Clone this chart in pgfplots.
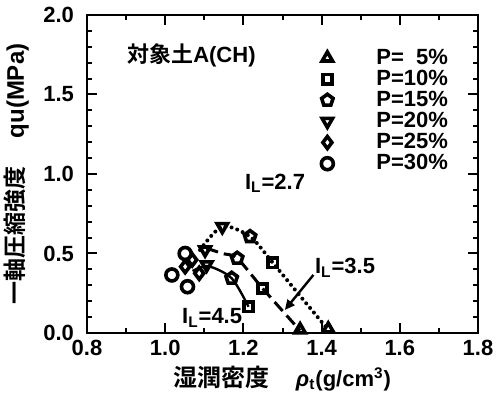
\documentclass[border=0pt]{standalone}
\usepackage{pgfplots}
\pgfplotsset{compat=1.18}
\usepackage{fontspec}
\setmainfont{Liberation Sans}
\newfontfamily\cjk{Noto Sans CJK JP}[BoldFont={* Bold}]
\usetikzlibrary{arrows.meta}
\newcommand{\lbl}{\fontsize{11}{12}\selectfont\bfseries}
\newcommand{\lblbig}{\fontsize{12}{13}\selectfont\bfseries}
\newcommand{\lblmid}{\fontsize{11.5}{13}\selectfont\bfseries}
\begin{document}
\begin{tikzpicture}
\useasboundingbox (-43.5pt,-33pt) rectangle (204.5pt,166.5pt);
\begin{axis}[
  anchor=south west, at={(0,0)},
  scale only axis, width=195.5pt, height=159pt,
  xmin=0.8, xmax=1.8, ymin=0, ymax=2.0,
  xtick={0.8,1.0,...,1.8}, ytick={0,0.5,...,2.0},
  minor x tick num=1, minor y tick num=4,
  xticklabel style={/pgf/number format/.cd,fixed,fixed zerofill,precision=1},
  yticklabel style={xshift=-3pt, /pgf/number format/.cd,fixed,fixed zerofill,precision=1},
  /pgf/number format/assume math mode=true,
  ticklabel style={font=\lbl},
  tick align=inside, major tick length=5pt, minor tick length=2.5pt,
  every tick/.style={black, line width=1pt},
  axis line style={line width=1.3pt},
  xlabel={{\cjk\lblbig 湿潤密度}\hspace{13pt}{\itshape ρ}\textsubscript{t}(g/cm\textsuperscript{3})},
  ylabel={{\cjk\lblmid 一軸圧縮強度}\hspace{14pt}{\lblbig qu(MPa)}},
  label style={font=\lbl},
  xlabel style={at={(axis description cs:0.5,0)}, anchor=north, yshift=-13pt},
  ylabel style={at={(axis description cs:0,0.5)}, anchor=south, yshift=25.5pt},
  legend style={draw=none, fill=none, font=\lbl, at={(rel axis cs:0.583,0.92)},
    anchor=north west, row sep=-2.6pt, column sep=19.5pt},
  legend cell align=left,
  every axis plot/.append style={black, line width=1.8pt},
  mark size=2.6pt,
]
% markers for each fines content P
\addplot[only marks, mark=triangle, mark size=3pt] coordinates {(1.417,0.025) (1.345,0.02)};
\addlegendentry{P=\phantom{1}5\%}
\addplot[only marks, mark=square, mark size=2.3pt] coordinates {(1.275,0.442) (1.249,0.281) (1.213,0.165)};
\addlegendentry{P=10\%}
\addplot[only marks, mark=pentagon, mark size=3pt] coordinates {(1.217,0.606) (1.184,0.47) (1.170,0.344)};
\addlegendentry{P=15\%}
\addplot[only marks, mark=triangle, mark options={rotate=180}, mark size=3pt] coordinates {(1.146,0.669) (1.102,0.522) (1.106,0.428)};
\addlegendentry{P=20\%}
\addplot[only marks, mark=diamond, mark size=3pt] coordinates {(1.069,0.46) (1.051,0.417) (1.087,0.375)};
\addlegendentry{P=25\%}
\addplot[only marks, mark=o, mark size=3pt] coordinates {(1.051,0.50) (1.017,0.365) (1.057,0.291)};
\addlegendentry{P=30\%}
% fitted curves for each liquidity index
\addplot[no marks, smooth, line width=2pt, dash pattern=on 0pt off 3pt, line cap=round, forget plot]
  coordinates {(1.089,0.522) (1.146,0.669) (1.217,0.606) (1.275,0.442) (1.345,0.233) (1.417,0.02)};
\addplot[no marks, smooth, line width=1.5pt, dash pattern=on 6pt off 3pt, forget plot]
  coordinates {(1.106,0.533) (1.146,0.50) (1.184,0.47) (1.249,0.281) (1.345,0.015)};
\addplot[no marks, smooth, line width=1.2pt, forget plot]
  coordinates {(1.07,0.39) (1.11,0.42) (1.170,0.344) (1.213,0.165)};
% annotations
\node[font=\lbl, anchor=west, inner sep=0pt] at (axis cs:0.902,1.748) {{\cjk\bfseries 対象土}A(CH)};
\node[font=\lbl] at (axis cs:1.281,0.943) {I\textsubscript{L}=2.7};
\node[font=\lbl] at (axis cs:1.46,0.41) {I\textsubscript{L}=3.5};
\node[font=\lbl] at (axis cs:1.12,0.094) {I\textsubscript{L}=4.5};
\draw[line width=1.2pt, -{Triangle[length=5pt,width=4.5pt]}] (axis cs:1.379,0.365) -- (axis cs:1.306,0.145);
\end{axis}
\end{tikzpicture}
\end{document}
